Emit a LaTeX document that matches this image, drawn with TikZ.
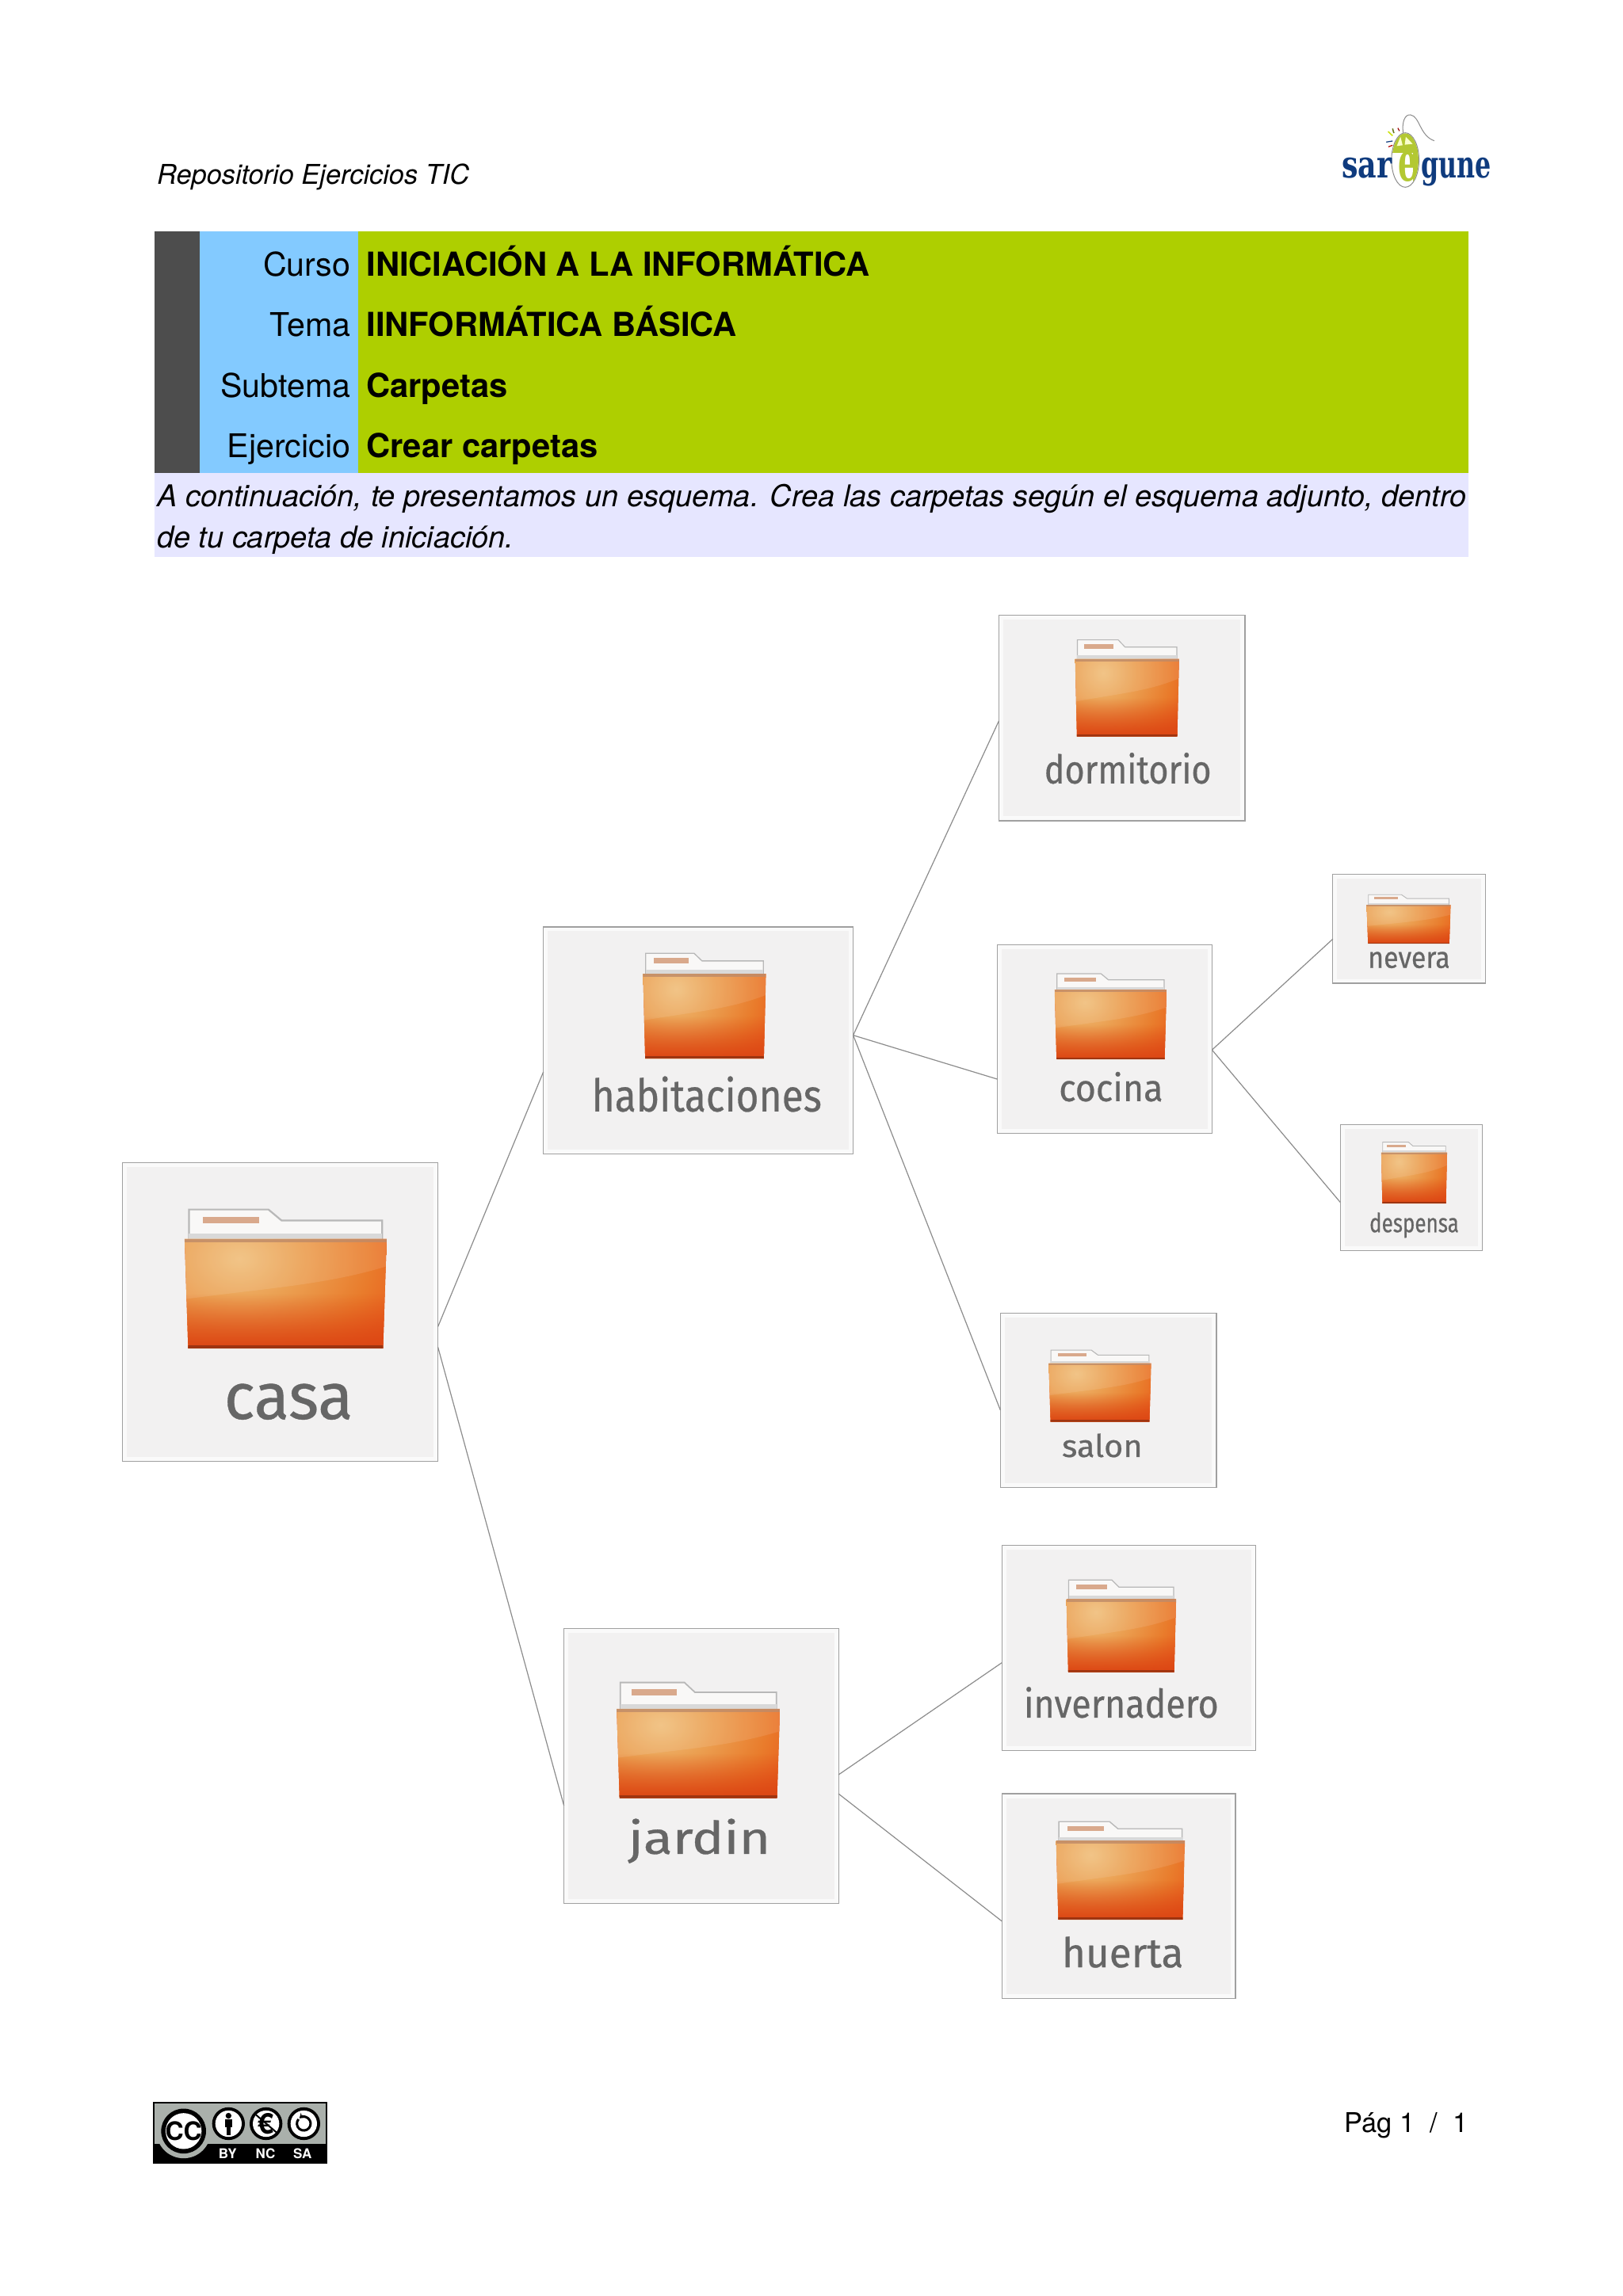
\documentclass[tikz,border=0pt]{standalone}
\usepackage{graphicx}
\usepackage{fontspec}
\setmainfont{TeX Gyre Heros}
\newfontfamily\labfont[RawFeature={embolden=0.5}]{Fira Sans}
\newfontfamily\logofont{DejaVu Serif}
\usetikzlibrary{fit,arrows.meta,fadings}
\newdimen\unitpx \unitpx=0.9242pt
\definecolor{barcol}{HTML}{4D4D4D}
\definecolor{bluecol}{HTML}{83CAFF}
\definecolor{greencol}{HTML}{AECF00}
\definecolor{lavcol}{HTML}{E6E6FF}
\definecolor{boxedge}{HTML}{A0A0A0}
\definecolor{boxin}{HTML}{F2F1F1}
\definecolor{boxout}{HTML}{FAFAFA}
\definecolor{linkcol}{HTML}{8C8C8C}
\definecolor{labcol}{HTML}{666666}
\definecolor{navy}{HTML}{0F3B7E}
\definecolor{mgreen}{HTML}{B3C832}
\definecolor{ccgray}{HTML}{AAB0AB}
\definecolor{foldhi}{HTML}{F0BE7A}
\definecolor{foldmid}{HTML}{EBA052}
\definecolor{foldmid2}{HTML}{E97C2C}
\definecolor{foldlo}{HTML}{E85518}
\definecolor{foldtab}{HTML}{D9A98C}
\definecolor{foldtabfill}{HTML}{F9F8F7}
\definecolor{folddark}{HTML}{DC4614}
\definecolor{foldedge}{HTML}{8F3010}
\definecolor{foldtop}{HTML}{BE8A68}
\pgfdeclareradialshading{foldrad}{\pgfpoint{0bp}{0bp}}{%
  color(0bp)=(foldhi); color(8bp)=(foldmid); color(17bp)=(foldmid2); color(25bp)=(foldlo); color(50bp)=(foldlo)}
\tikzset{
  x=0.9242pt, y=-0.9242pt,
  bandcell/.style={inner sep=0pt, outer sep=0pt},
  normtext/.style={inner sep=0pt, anchor=base, font=\fontsize{20.6}{24}\selectfont},
  boldtext/.style={inner sep=0pt, anchor=base west, font=\fontsize{20.85}{24}\selectfont\bfseries},
  paratext/.style={inner sep=0pt, anchor=base west, font=\fontsize{18.96}{24}\selectfont\itshape},
  smalltext/.style={inner sep=0pt, anchor=base west, font=\fontsize{17.2}{20}\selectfont\itshape},
  foldbox/.style={draw=boxedge, line width=0.6pt, fill=boxout, inner sep=0pt, outer sep=0pt},
  foldlabel/.style={inner sep=0pt, anchor=base, text=labcol, font=\labfont},
  link/.style={draw=linkcol, line width=0.6pt},
}
% box + inner panel
\newcommand{\fbx}[5]{%
  \node[foldbox, fit={(#2,#3)(#4,#5)}] (#1) {};
  \fill[boxin] (#2+3,#3+3) rectangle (#4-3,#5-3);
}
% folder: x0 x1 ytop ybody ybot
\newcommand{\folder}[5]{%
  \pgfmathsetmacro{\fw}{#2-#1}\pgfmathsetmacro{\fh}{#5-#4}\pgfmathsetmacro{\ft}{#4-#3}
  \pgfmathsetmacro{\bl}{#1+0.022*\fw}\pgfmathsetmacro{\br}{#2-0.022*\fw}
  \pgfmathsetmacro{\sa}{#1+0.415*\fw}\pgfmathsetmacro{\sb}{#1+0.48*\fw}
  \pgfmathsetmacro{\st}{#3+0.375*\ft}
  \pgfmathsetmacro{\lw}{max(0.45,0.008*\fw)}
  \filldraw[fill=foldtabfill, draw=black!28, line width=\lw pt]
    (\bl,#4) -- (\bl,#3) -- (\sa,#3) -- (\sb,\st) -- (\br,\st) -- (\br,#4) -- cycle;
  \fill[foldtab] (#1+0.09*\fw,#3+0.24*\ft) rectangle (#1+0.37*\fw,#3+0.48*\ft);
  \fill[black!15] (\bl,#4-0.18*\ft) rectangle (\br,#4);
  \begin{scope}
    \clip (#1,#4) -- (#2,#4) -- (#2-0.018*\fw,#5) -- (#1+0.018*\fw,#5) -- cycle;
    \fill[foldlo] (#1,#4) rectangle (#2,#5);
    \shade[shading=foldrad]
      (#1+0.27*\fw,#4+0.18*\fh) ellipse ({0.95*\fw} and {1.3*\fh});
    \fill[white, opacity=0.10] (#1,#4+0.55*\fh) .. controls (#1+0.4*\fw,#4+0.45*\fh) and (#1+0.7*\fw,#4+0.42*\fh) .. (#2,#4+0.25*\fh) -- (#2,#4) -- (#1,#4) -- cycle;
    \fill[folddark, path fading=north] (#1,#4+0.5*\fh) rectangle (#2,#5);
    \fill[foldedge, opacity=0.8] (#1,#5-0.03*\fh) rectangle (#2,#5);
    \fill[foldtop, opacity=0.8] (#1,#4) rectangle (#2,#4+0.035*\fh);
  \end{scope}
}
\newcommand{\lab}[7]{%
  \node[foldlabel] (#1) at ({(#2+#3)/2},#4) {\resizebox{\dimexpr#3\unitpx-#2\unitpx\relax}{#5\unitpx}{#6#7}};
}
\newcommand{\conn}[4]{\draw[link] ([yshift=-#2\unitpx]#1.east) -- ([yshift=-#4\unitpx]#3.west);}
\begin{document}
\begin{tikzpicture}
\useasboundingbox (0,0) rectangle (1108,1568);
\fill[white] (0,0) rectangle (1108,1568);
% header text
\node[smalltext] (repo) at (107,126) {Repositorio Ejercicios TIC};
% table
\node[bandcell, fill=barcol, fit={(105.5,158)(136.5,323)}] (bar) {};
\node[bandcell, fill=bluecol, fit={(136.5,158)(244.5,323)}] (blue) {};
\node[bandcell, fill=greencol, fit={(244.5,158)(1002.5,323)}] (green) {};
\node[bandcell, fill=lavcol, fit={(105.5,323)(1002.5,380.5)}] (lav) {};
\node[normtext, anchor=base east] (k1) at (239.5,188.5) {Curso};
\node[normtext, anchor=base east] (k2) at (239.5,229.5) {Tema};
\node[normtext, anchor=base east] (k3) at (239.5,271.5) {Subtema};
\node[normtext, anchor=base east] (k4) at (239.5,312.5) {Ejercicio};
\node[boldtext] (v1) at (250,188.5) {INICIACIÓN A LA INFORMÁTICA};
\node[boldtext] (v2) at (250,229.5) {IINFORMÁTICA BÁSICA};
\node[boldtext] (v3) at (250,271.5) {Carpetas};
\node[boldtext] (v4) at (250,312.5) {Crear carpetas};
\node[paratext] (p1) at (107,346) {\makebox[894\unitpx][s]{A continuación, te presentamos un esquema. Crea las carpetas según el esquema adjunto, dentro}};
\node[paratext] (p2) at (107,374) {de tu carpeta de iniciación.};
% boxes
\fbx{casa}{83.5}{794}{299}{998}
\fbx{hab}{371}{633}{582.5}{788}
\fbx{dorm}{682}{420}{850}{560.5}
\fbx{coc}{681}{645}{827.5}{774}
\fbx{nev}{910}{597}{1014}{671.5}
\fbx{desp}{915}{768}{1012}{854}
\fbx{sal}{683}{897}{830.5}{1016}
\fbx{inv}{684}{1055.5}{857.5}{1195.5}
\fbx{hue}{684}{1225}{843.5}{1365}
\fbx{jar}{385}{1112}{572.5}{1300}
% connectors
\conn{casa}{10}{hab}{21.5}
\conn{casa}{24}{jar}{27}
\conn{hab}{-3.5}{dorm}{2}
\conn{hab}{-3.5}{coc}{27.5}
\conn{hab}{-3.5}{sal}{6.5}
\conn{coc}{7.5}{nev}{7}
\conn{coc}{7.5}{desp}{10}
\conn{jar}{6}{inv}{10}
\conn{jar}{19}{hue}{17}
% folders
\folder{126}{264}{826}{846}{921}
\folder{439}{523}{651}{665}{723}
\folder{734}{805}{437}{450}{503}
\folder{720}{796.5}{665}{676}{723.5}
\folder{933}{990.5}{611}{618}{644.5}
\folder{943}{988}{780}{787}{822}
\folder{716}{786}{922}{931}{971}
\folder{728}{803}{1079}{1092}{1142}
\folder{721}{809}{1244}{1257}{1311}
\folder{421}{532.5}{1149}{1167}{1228}
% labels
\lab{lcasa}{153}{241}{969}{24}{}{casa}
\lab{lhab}{404}{561}{759}{24}{}{habitaciones}
\lab{ldorm}{713}{827}{535}{21}{}{dormitorio}
\lab{lcoc}{723}{794}{752}{20}{}{cocina}
\lab{lnev}{934}{990}{661}{11}{}{nevera}
\lab{ldesp}{935}{996}{841.5}{13.5}{}{despensa}
\lab{lsal}{725}{780}{995}{16}{}{salon}
\lab{linv}{699}{832}{1173}{21}{}{invernadero}
\lab{lhue}{725}{808}{1343.5}{21}{}{huerta}
\lab{ljar}{429}{526}{1266}{24}{}{jardin}
% footer
\node[inner sep=0pt, anchor=base east, font=\fontsize{17.2}{20}\selectfont] (pag) at (1002.5,1456) {Pág 1 \ / \ 1};
% logo
\begin{scope}[shift={(898.1,70.33)},scale=0.18034]
  \draw[black!45, line width=0.5pt] (333,118) .. controls (325,70) and (340,42) .. (360,45) .. controls (395,50) and (395,125) .. (450,143);
  \filldraw[fill=white, draw=black!45, line width=0.5pt] (340,216) ellipse (52 and 103);
  \begin{scope}
    \clip (340,216) ellipse (50 and 101);
    \fill[mgreen] (280,110) rectangle (400,190);
    \fill[mgreen] (370,170) rectangle (400,300);
  \end{scope}
  \fill[green!10!yellow!20!white] (308,163) -- (322,128) -- (330,160) -- cycle;
  \fill[green!10!yellow!20!white] (338,158) -- (342,128) -- (368,155) -- cycle;
  \draw[yellow!80!green, line width=0.8pt] (275,108) -- (292,124);
  \draw[mgreen!60!black, line width=0.8pt] (292,97) -- (297,114);
  \draw[red!60!black, line width=0.6pt] (312,95) -- (318,106);
  \draw[navy, line width=0.6pt] (268,148) -- (292,144);
  \draw[red!70!black, line width=0.6pt] (276,166) -- (292,160);
  \node[inner sep=0pt, anchor=base, text=mgreen, font=\logofont\bfseries] (loge) at (350,296) {\resizebox{12.98\unitpx}{20\unitpx}{e}};
  \node[inner sep=0pt, anchor=base, text=navy, font=\logofont\bfseries] (logs) at (195,285) {\resizebox{34.26\unitpx}{13.7\unitpx}{sar}};
  \node[inner sep=0pt, anchor=base, text=navy, font=\logofont\bfseries] (logg) at (532,285) {\resizebox{47.8\unitpx}{13.7\unitpx}{gune}};
\end{scope}
% cc badge
\begin{scope}[shift={(97.4,1428.3)},scale=0.18034]
  \fill[ccgray] (42,43) rectangle (695,200);
  \fill[black] (42,198) rectangle (695,270);
  \draw[black, line width=1pt] (42,43) rectangle (695,270);
  \fill[ccgray] (155,150) circle (103);
  \fill[black] (155,150) circle (85);
  \fill[white] (155,150) circle (68);
  \node[inner sep=0pt, font=\fontsize{16}{16}\selectfont\bfseries] (cc) at (155,150) {CC};
  \foreach \cx/\nm in {325/by,467/nc,610/sa}{
    \fill[black] (\cx,122) circle (62);
    \fill[white] (\cx,122) circle (50);
  }
  % by
  \fill[black] (325,92) circle (11);
  \fill[black] (311,106) rectangle (339,135);
  \fill[black] (317,130) rectangle (333,165);
  % nc
  \node[inner sep=0pt, font=\fontsize{18}{18}\selectfont\bfseries] (euro) at (467,122) {€};
  \draw[black, line width=1pt] (425,85) -- (510,158);
  % sa
  \draw[black, line width=1.5pt, -{Stealth[length=3pt,width=4pt]}] (590,105) arc[start angle=220, end angle=-130, x radius=26, y radius=26];
  \node[inner sep=0pt, anchor=base, text=white, font=\fontsize{8.5}{9}\selectfont\bfseries] (by) at (322,255) {BY};
  \node[inner sep=0pt, anchor=base, text=white, font=\fontsize{8.5}{9}\selectfont\bfseries] (nc) at (465,255) {NC};
  \node[inner sep=0pt, anchor=base, text=white, font=\fontsize{8.5}{9}\selectfont\bfseries] (sa) at (605,255) {SA};
\end{scope}
\end{tikzpicture}
\end{document}
